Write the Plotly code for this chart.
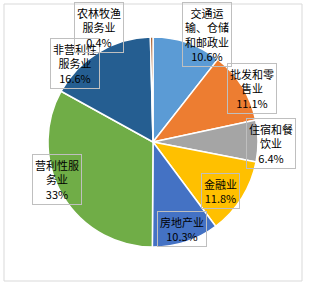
import plotly.graph_objects as go

W, H = 309, 288

categories = ["交通运输、仓储和邮政业", "批发和零售业", "住宿和餐饮业", "金融业",
              "房地产业", "营利性服务业", "非营利性服务业", "农林牧渔服务业"]
values = [10.6, 11.1, 6.4, 11.8, 10.3, 33, 16.6, 0.4]
pct_labels = ["10.6%", "11.1%", "6.4%", "11.8%", "10.3%", "33%", "16.6%", "0.4%"]
label_lines = [["交通运", "输、仓储", "和邮政业"], ["批发和零", "售业"], ["住宿和餐", "饮业"],
               ["金融业"], ["房地产业"], ["营利性服", "务业"], ["非营利性", "服务业"],
               ["农林牧渔", "服务业"]]
colors = ["#5B9BD5", "#ED7D31", "#A5A5A5", "#FFC000", "#4472C4", "#70AD47", "#255E91", "#9E480E"]
label_pos = [(207, 34), (252, 88), (271, 143), (220, 191), (182, 229), (57, 179), (75, 63), (99, 27)]

cx, cy, r = 153, 142, 105

fig = go.Figure(go.Pie(
    labels=categories, values=values, sort=False, direction="clockwise", rotation=0,
    marker=dict(colors=colors, line=dict(color="white", width=1.5)),
    textinfo="none", hoverinfo="label+percent", showlegend=False,
    domain=dict(x=[(cx - r) / W, (cx + r) / W], y=[1 - (cy + r) / H, 1 - (cy - r) / H]),
))

for lines, pct, (px, py) in zip(label_lines, pct_labels, label_pos):
    fig.add_annotation(
        x=px / W, y=1 - py / H, xref="paper", yref="paper",
        text="<br>".join(lines + [pct]), showarrow=False,
        xanchor="center", yanchor="middle", align="center",
        font=dict(family="Noto Sans CJK SC", size=11, color="black"),
        bordercolor="#BFBFBF", borderwidth=1, borderpad=2,
    )

fig.add_shape(type="rect", xref="paper", yref="paper",
              x0=4 / W, x1=302 / W, y0=1 - 281 / H, y1=1 - 4 / H,
              line=dict(color="#D9D9D9", width=1))

fig.update_layout(width=W, height=H, margin=dict(l=0, r=0, t=0, b=0),
                  paper_bgcolor="white", plot_bgcolor="white")
fig.write_html("out.html")
